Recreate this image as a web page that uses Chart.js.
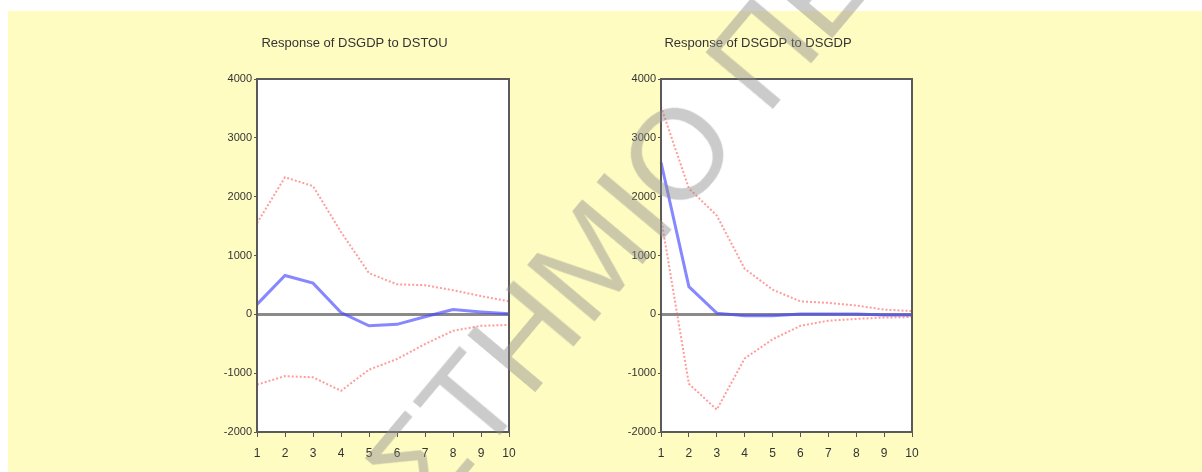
<!DOCTYPE html>
<html>
<head>
<meta charset="utf-8">
<script src="https://cdn.jsdelivr.net/npm/chart.js@4.4.0/dist/chart.umd.min.js"></script>
<style>
body { margin: 0; width: 1202px; height: 472px; background: #fff; position: relative; overflow: hidden; font-family: "Liberation Sans", Arial, sans-serif; }
#bg { position: absolute; left: 8px; top: 11px; right: 0; bottom: 0; background: #fffcc2; }
.box { position: absolute; top: 20px; height: 452px; }
#wm { position: absolute; left: 644px; top: 191px; width: 0; height: 0; transform: rotate(-50deg); transform-origin: 0 0; }
#wm span { position: absolute; top: -62px; font-size: 128px; line-height: 128px; white-space: nowrap; color: rgba(140,140,140,0.45); }
</style>
</head>
<body>
<div id="bg"></div>
<div class="box" style="left:200px;width:366px"><canvas id="chartTou"></canvas></div>
<div class="box" style="left:604px;width:365px"><canvas id="chartGdp"></canvas></div>
<div id="wm"><span style="right:0">ΠΑΝΕΠΙΣΤΗΜΙ</span><span style="left:0">Ο ΠΕΙΡΑΙΩΣ</span></div>

<script>
var steps = ['1', '2', '3', '4', '5', '6', '7', '8', '9', '10'];
var yTicks = [-2000, -1000, 0, 1000, 2000, 3000, 4000];

// response of DSGDP to DSTOU
var touResp  = [170, 660, 530, 30, -195, -170, -40, 80, 40, 10];
var touUpper = [1550, 2330, 2180, 1400, 700, 510, 495, 410, 310, 220];
var touLower = [-1195, -1050, -1070, -1300, -940, -760, -505, -280, -195, -180];

// response of DSGDP to DSGDP
var gdpResp  = [2585, 470, 20, -25, -25, 5, 5, 5, -10, -10];
var gdpUpper = [3530, 2140, 1680, 775, 420, 220, 195, 150, 80, 55];
var gdpLower = [1640, -1180, -1620, -750, -425, -195, -108, -78, -55, -45];

var boxPlugin = {
    id: 'plotBox',
    beforeDraw: function(chart) {
        var a = chart.chartArea, ctx = chart.ctx;
        ctx.save();
        ctx.fillStyle = '#ffffff';
        ctx.fillRect(a.left, a.top, a.right - a.left, a.bottom - a.top);
        ctx.restore();
    },
    afterDraw: function(chart) {
        var a = chart.chartArea, ctx = chart.ctx;
        ctx.save();
        ctx.strokeStyle = '#5a5a5a';
        ctx.lineWidth = 2;
        ctx.strokeRect(a.left, a.top, a.right - a.left, a.bottom - a.top);
        ctx.restore();
    }
};

function makeChart(id, title, resp, upper, lower) {
    return new Chart(document.getElementById(id), {
        type: 'line',
        data: {
            labels: steps,
            datasets: [{
                data: upper,
                borderColor: 'rgba(255,90,90,0.6)',
                borderWidth: 2,
                borderDash: [2, 2],
                pointRadius: 0
            }, {
                data: lower,
                borderColor: 'rgba(255,90,90,0.6)',
                borderWidth: 2,
                borderDash: [2, 2],
                pointRadius: 0
            }, {
                data: resp,
                borderColor: 'rgba(70,70,255,0.65)',
                borderWidth: 3,
                pointRadius: 0
            }]
        },
        options: {
            responsive: true,
            maintainAspectRatio: false,
            animation: false,
            layout: { padding: { left: 0, right: 57, top: 0, bottom: 0 } },
            plugins: {
                legend: { display: false },
                tooltip: { enabled: false },
                title: {
                    display: true,
                    text: title,
                    color: '#333',
                    font: { family: 'Liberation Sans', size: 13, weight: 'normal' },
                    padding: { top: 15.2, bottom: 28.2 }
                }
            },
            scales: {
                x: {
                    offset: false,
                    grid: {
                        drawOnChartArea: false,
                        tickLength: 5,
                        tickColor: '#555'
                    },
                    border: { display: false },
                    ticks: {
                        color: '#333',
                        font: { family: 'Liberation Sans', size: 12 },
                        padding: 9,
                        maxRotation: 0,
                        autoSkip: false
                    },
                    afterFit: function(s) { s.height = 40; }
                },
                y: {
                    min: -2000,
                    max: 4000,
                    afterBuildTicks: function(s) {
                        s.ticks = yTicks.map(function(v) { return { value: v }; });
                    },
                    grid: {
                        color: function(c) { return c.tick && c.tick.value === 0 ? '#8a8a8a' : 'rgba(0,0,0,0)'; },
                        lineWidth: function(c) { return c.tick && c.tick.value === 0 ? 3 : 1; },
                        tickLength: 3,
                        tickColor: '#555',
                        tickWidth: 1
                    },
                    border: { display: false },
                    ticks: {
                        color: '#333',
                        font: { family: 'Liberation Sans', size: 11 },
                        padding: 2,
                        callback: function(v) { return String(v); }
                    },
                    afterFit: function(s) { s.width = 57; }
                }
            }
        },
        plugins: [boxPlugin]
    });
}

makeChart('chartTou', 'Response of DSGDP to DSTOU', touResp, touUpper, touLower);
makeChart('chartGdp', 'Response of DSGDP to DSGDP', gdpResp, gdpUpper, gdpLower);
</script>
</body>
</html>
